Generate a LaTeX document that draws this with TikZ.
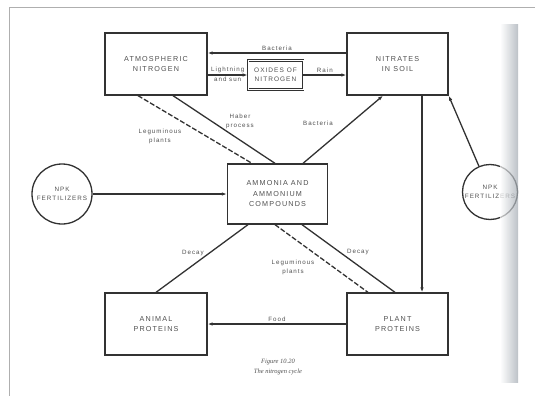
\documentclass[tikz,border=0pt]{standalone}
\usepackage{fontspec}
\setmainfont{Liberation Sans}
\newfontfamily\diagfont[LetterSpace=16]{Liberation Sans}
\newfontfamily\capfont{Liberation Serif}
\usetikzlibrary{arrows.meta,calc,positioning,shapes.geometric}
\definecolor{inkgrey}{RGB}{50,50,50}
\definecolor{textgrey}{RGB}{80,80,80}
\definecolor{framegrey}{RGB}{175,175,175}
\definecolor{bindgrey}{RGB}{160,168,176}

\begin{document}
\begin{tikzpicture}[x=1pt,y=-1pt,
    cyclebox/.style={draw=inkgrey,line width=1.3pt,fill=white,minimum width=102pt,
      minimum height=62pt,align=center,text=textgrey,
      font=\diagfont\fontsize{7.2}{10.5}\selectfont},
    fertcircle/.style={circle,draw=inkgrey,line width=1.3pt,fill=white,minimum size=60pt,
      inner sep=0pt,align=center,text=textgrey,font=\diagfont\fontsize{6.3}{9}\selectfont},
    flow/.style={draw=inkgrey,line width=1.3pt,-{Latex[length=5pt,width=3.5pt]}},
    link/.style={draw=inkgrey,line width=1.3pt},
    tag/.style={text=textgrey,font=\diagfont\fontsize{6.2}{9}\selectfont,align=center,inner sep=1.5pt}]
    \useasboundingbox (0,0) rectangle (535,396);
    \draw[framegrey,line width=.8pt] (535,7) -- (9,7) -- (9,396);
    \node[cyclebox] (atmos) at (156,64) {ATMOSPHERIC\\NITROGEN};
    \node[cyclebox,minimum width=101pt] (nitrates) at (397.5,64) {NITRATES\\IN SOIL};
    \node[cyclebox,line width=.7pt,double,double distance=.9pt,minimum width=55pt,
      minimum height=29pt,inner sep=1pt,font=\diagfont\fontsize{6.5}{8.5}\selectfont]
      (oxides) at (275.5,75) {OXIDES OF\\NITROGEN};
    \node[cyclebox,minimum width=100pt,minimum height=60pt] (ammonia) at (277.5,194)
      {AMMONIA AND\\AMMONIUM\\COMPOUNDS};
    \node[cyclebox] (animal) at (156,324) {ANIMAL\\PROTEINS};
    \node[cyclebox,minimum width=101pt] (plant) at (397.5,324) {PLANT\\PROTEINS};
    \node[fertcircle] (npkleft) at (62,194) {NPK\\FERTILIZERS};
    \node[fertcircle,minimum size=55pt] (npkright) at (490,192) {NPK\\FERTILIZERS};
    \draw[flow] ([yshift=11pt]nitrates.west) -- ([yshift=11pt]atmos.east)
      node[tag,midway,above] {Bacteria};
    \draw[flow] ([yshift=-11pt]atmos.east) -- (oxides.west)
      node[tag,midway,above] {Lightning} node[tag,midway,below] {and sun};
    \draw[flow] (oxides.east) -- ([yshift=-11pt]nitrates.west)
      node[tag,midway,above] {Rain};
    \draw[link,dash pattern=on 5pt off 2pt] ([xshift=-18pt]atmos.south)
      -- ([xshift=-25.5pt]ammonia.north);
    \draw[link] ([xshift=17pt]atmos.south) -- ([xshift=-2.5pt]ammonia.north);
    \draw[flow] ([xshift=25.5pt]ammonia.north) -- ([xshift=-14.5pt]nitrates.south);
    \draw[flow] (npkleft) -- (ammonia.west);
    \draw[flow] (npkright) -- (nitrates.south east);
    \draw[flow] ([xshift=24.5pt]nitrates.south) -- ([xshift=24.5pt]plant.north);
    \draw[flow] (plant) -- (animal) node[tag,midway,above] {Food};
    \draw[link] (animal.north) -- ([xshift=-29.5pt]ammonia.south);
    \draw[link,dash pattern=on 5pt off 2pt] ([xshift=-2.5pt]ammonia.south)
      -- ([xshift=-29.5pt]plant.north);
    \draw[link] ([xshift=24.5pt]ammonia.south) -- ([xshift=-2.5pt]plant.north);
    \node[tag] (legumeup) at (160,136) {Leguminous\\plants};
    \node[tag] (haber) at (240,121) {Haber\\process};
    \node[tag] (bactup) at (318,123) {Bacteria};
    \node[tag] (decayleft) at (193,253) {Decay};
    \node[tag] (legumedown) at (293,267) {Leguminous\\plants};
    \node[tag] (decayright) at (358,252) {Decay};
    \node[text=textgrey,align=center,font=\capfont\itshape\fontsize{6.5}{10.5}\selectfont]
      (caption) at (278,367) {Figure 10.20\\The nitrogen cycle};
    \shade[left color=white,right color=bindgrey,opacity=.7] (500,25) rectangle (518,382);
    \fill[white] (518.5,25) rectangle (535,382);
  \end{tikzpicture}
\end{document}
